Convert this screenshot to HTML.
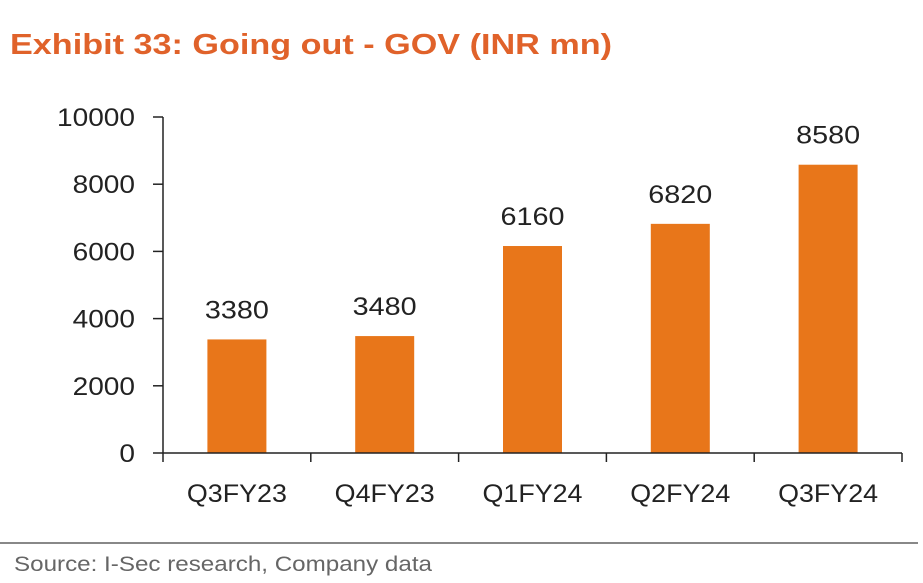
<!DOCTYPE html>
<html><head><meta charset="utf-8"><style>
body{margin:0;background:#fff;width:923px;height:578px;overflow:hidden;font-family:"Liberation Sans",sans-serif}
</style></head><body>
<svg width="923" height="578" id="svg">
<text x="10" y="54" font-size="29" fill="#e0622a" textLength="602" lengthAdjust="spacingAndGlyphs" style="font-weight:600">Exhibit 33: Going out - GOV (INR mn)</text>
<line x1="0" y1="543" x2="918" y2="543" stroke="#888" stroke-width="2"/>
<text x="14" y="571" font-size="21" fill="#666" textLength="418" lengthAdjust="spacingAndGlyphs">Source: I-Sec research, Company data</text>
<g id="plot"></g>
</svg>
<script>
const categories=["Q3FY23","Q4FY23","Q1FY24","Q2FY24","Q3FY24"];
const values=[3380,3480,6160,6820,8580];
const yTicks=[0,2000,4000,6000,8000,10000];
const x0=163,x1=902,y0=453,yTop=117,yMax=10000;
const cw=(x1-x0)/categories.length;
const y=v=>y0-(y0-yTop)*v/yMax;
const xc=i=>x0+cw*(i+0.5);
const g=document.getElementById('plot');
const NS='http://www.w3.org/2000/svg';
function mk(t,a){const e=document.createElementNS(NS,t);for(const k in a)e.setAttribute(k,a[k]);g.appendChild(e);return e;}
values.forEach((v,i)=>{
 const r=mk('rect',{x:xc(i)-29.5,y:y(v),width:59,height:y0-y(v),fill:'#e8761a'});
 
 
 const t=mk('text',{x:xc(i),y:y(v)-21,'text-anchor':'middle','font-size':'25',fill:'#222',textLength:String(v).length*16,lengthAdjust:'spacingAndGlyphs'});
 t.textContent=v;
 
 
 const c=mk('text',{x:xc(i),y:502,'text-anchor':'middle','font-size':'25',fill:'#222',textLength:100,lengthAdjust:'spacingAndGlyphs'});
 c.textContent=categories[i];
 
 
});
for(let i=0;i<=categories.length;i++){
 const l=mk('line',{x1:x0+cw*i,x2:x0+cw*i,y1:y0,y2:y0+9,stroke:'#222','stroke-width':1.5});
 
 
}
yTicks.forEach(v=>{
 const l=mk('line',{x1:x0-10,x2:x0,y1:y(v),y2:y(v),stroke:'#222','stroke-width':1.5});
 
 
 const t=mk('text',{x:135,y:y(v)+9,'text-anchor':'end','font-size':'25',fill:'#222',textLength:String(v).length*15.6,lengthAdjust:'spacingAndGlyphs'});
 t.textContent=v;
 
 
});
const ya=mk('line',{x1:x0,x2:x0,y1:yTop,y2:y0,stroke:'#222','stroke-width':1.5});


const xa=mk('line',{x1:x0,x2:x1,y1:y0,y2:y0,stroke:'#222','stroke-width':1.5});


</script>
</body></html>
